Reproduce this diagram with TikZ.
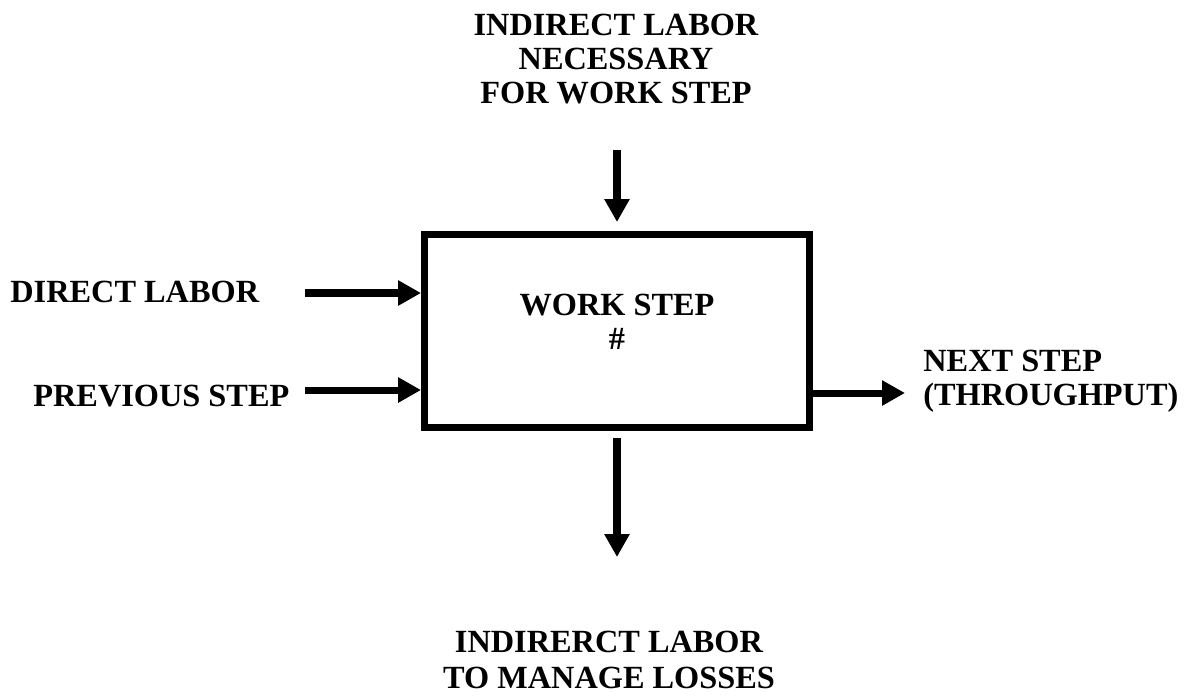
\documentclass[tikz,border=0pt]{standalone}
\usepackage{fontspec}
\setmainfont{Liberation Serif}
\usepackage{tikz}
\usetikzlibrary{arrows.meta}
\usetikzlibrary{positioning}

\begin{document}
\begin{tikzpicture}[x=0.02cm, y=-0.02cm,
    flow/.style={line width=4pt, -{Triangle[width=0.48cm, length=0.46cm]}},
    lbl/.style={font=\fontsize{18.4}{19.6}\selectfont\bfseries, inner sep=0pt}]
    \useasboundingbox (0, 0) rectangle (1186, 698);
    \node [draw, line width=4pt, inner sep=0pt, minimum width=7.7cm,
      minimum height=3.86cm] (workstep) at (617, 331) {};
    \node [lbl, align=center] (boxtext) at (617, 322) {WORK STEP\\\#};

    % labels
    \node [lbl, align=center] (indirect) at (616, 59)
      {INDIRECT LABOR\\NECESSARY\\ FOR WORK STEP};
    \node [lbl, anchor=west] (direct) at (10, 292) {DIRECT LABOR};
    \node [lbl, anchor=west] (previous) at (33, 396) {PREVIOUS STEP};
    \node [lbl, anchor=west, align=left] (next) at (923, 381)
      {NEXT STEP\\(THROUGHPUT)};
    \node [lbl, align=center] (losses) at (609, 660)
      {INDIRERCT LABOR\\[1pt]TO MANAGE LOSSES};

    % arrows
    \coordinate (topin) at (617, 150);
    \coordinate (directin) at (305, 293);
    \coordinate (previn) at (305, 390);
    \coordinate (nextout) at (905, 393);
    \coordinate (lossout) at (617, 557);
    \draw [flow, shorten >=0.18cm] (topin) -- (workstep.north);
    \draw [flow] (directin) -- (directin -| workstep.west);
    \draw [flow] (previn) -- (previn -| workstep.west);
    \draw [flow] (nextout -| workstep.east) -- (nextout);
    \draw [flow, shorten <=0.14cm] (workstep.south) -- (lossout);
  \end{tikzpicture}
\end{document}
